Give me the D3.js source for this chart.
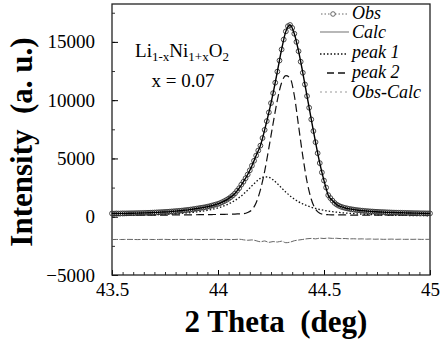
<!DOCTYPE html>
<html>
<head>
<meta charset="utf-8">
<script src="https://cdn.jsdelivr.net/npm/d3@7"></script>
<style>
  body { margin: 0; background: #fff; }
  svg text { font-family: "Liberation Serif", "Times New Roman", serif; }
</style>
</head>
<body>
<div id="chart"></div>
<script>
// observed points, 43.50 .. 45.00 every 0.01 deg
let obsStart = 43.5, obsStep = 0.01;
let obs = [
  280, 270, 285, 275, 280, 290, 285, 290, 295, 300,
  300, 305, 310, 315, 320, 325, 330, 340, 345, 350,
  360, 370, 380, 390, 400, 410, 420, 435, 450, 465,
  480, 495, 510, 530, 550, 570, 590, 615, 640, 670,
  700, 730, 760, 790, 820, 860, 900, 950, 1000, 1050,
  1100, 1170, 1250, 1340, 1440, 1550, 1680, 1830, 2000, 2230,
  2450, 2750, 3000, 3300, 3620, 3980, 4380, 4800, 5250, 5680,
  6100, 6750, 7450, 8200, 8950, 9750, 10600, 11500, 12450, 13400,
  14350, 15200, 15900, 16350, 16450, 16200, 15700, 15000, 14200, 13300,
  12350, 11350, 10350, 9350, 8350, 7350, 6400, 5450, 4600, 3800,
  3100, 2500, 1850, 1600, 1380, 1180, 1040, 940, 860, 800,
  750, 710, 670, 640, 610, 580, 560, 540, 520, 500,
  485, 470, 455, 445, 430, 420, 410, 400, 395, 385,
  375, 370, 360, 355, 350, 345, 340, 335, 330, 325,
  320, 315, 310, 305, 305, 300, 295, 295, 290, 290,
  285
];

// fitted curves, 43.50 .. 45.00 every 0.02 deg
let fitStart = 43.5, fitStep = 0.02;
let calc = [
  285, 285, 285, 288, 294, 300, 310, 320, 330, 345,
  360, 380, 400, 420, 450, 480, 510, 550, 590, 640,
  700, 760, 820, 900, 1000, 1100, 1250, 1440, 1680, 2000,
  2450, 3000, 3620, 4380, 5250, 6100, 7450, 8950, 10600, 12450,
  14350, 15900, 16450, 15700, 14200, 12350, 10350, 8350, 6400, 4600,
  3100, 1850, 1380, 1040, 860, 750, 670, 610, 560, 520,
  485, 455, 430, 410, 395, 375, 360, 350, 340, 330,
  320, 310, 305, 295, 290, 285
];
let peak1 = [
  90, 100, 100, 110, 115, 120, 130, 140, 150, 160,
  170, 185, 200, 215, 235, 255, 280, 305, 335, 370,
  410, 460, 520, 585, 665, 760, 875, 1015, 1190, 1395,
  1645, 1940, 2285, 2655, 3005, 3290, 3425, 3380, 3160, 2835,
  2465, 2110, 1790, 1515, 1285, 1095, 940, 815, 710, 620,
  550, 485, 435, 390, 350, 320, 290, 265, 245, 225,
  205, 190, 175, 165, 155, 145, 135, 125, 120, 110,
  105, 100, 95, 90, 85, 80
];
let peak2 = [
  120, 120, 125, 125, 125, 130, 130, 130, 135, 135,
  140, 140, 145, 145, 150, 150, 155, 160, 160, 165,
  170, 175, 180, 185, 190, 195, 200, 210, 220, 230,
  245, 260, 360, 600, 1200, 2300, 3900, 5900, 8000, 10000,
  11500, 12100, 11900, 10400, 7800, 5200, 3000, 1500, 650, 300,
  200, 170, 160, 155, 150, 150, 145, 145, 140, 140,
  140, 135, 135, 135, 130, 130, 130, 125, 125, 125,
  120, 120, 120, 115, 115, 115
];
let diff = [
  -1960, -1950, -1955, -1950, -1945, -1950, -1960, -1950, -1945, -1950,
  -1955, -1950, -1940, -1950, -1960, -1950, -1945, -1955, -1950, -1940,
  -1950, -1960, -1945, -1950, -1940, -1955, -1950, -1945, -1960, -1950,
  -1930, -1980, -2020, -1990, -2060, -2150, -2080, -2200, -2130, -2170,
  -2100, -2230, -2180, -2060, -2000, -1950, -1890, -1860, -1900, -1840,
  -1870, -1830, -1860, -1850, -1880, -1870, -1900, -1890, -1910, -1900,
  -1920, -1910, -1930, -1920, -1940, -1930, -1920, -1940, -1930, -1940,
  -1935, -1940, -1930, -1945, -1940, -1940
];

let xTicks = [43.5, 44, 44.5, 45];
let yTicks = [-5000, 0, 5000, 10000, 15000];
let legendNames = ["Obs", "Calc", "peak 1", "peak 2", "Obs-Calc"];

let width = 441, height = 345;
let plot = { left: 112, right: 430, top: 4, bottom: 275 };

let x = d3.scaleLinear().domain([43.5, 45]).range([plot.left, plot.right]);
let y = d3.scaleLinear().domain([-5000, 18250]).range([plot.bottom, plot.top]);

let svg = d3.select("#chart").append("svg")
  .attr("width", width)
  .attr("height", height);

let obsPts = obs.map((v, i) => ({ t: obsStart + i * obsStep, v: v }));
let fitPts = arr => arr.map((v, i) => ({ t: fitStart + i * fitStep, v: v }));

let line = d3.line()
  .x(d => x(d.t))
  .y(d => y(d.v))
  .curve(d3.curveMonotoneX);

// minor ticks
svg.append("g")
  .attr("transform", "translate(" + plot.left + ",0)")
  .call(d3.axisLeft(y).tickValues(d3.range(-5000, 18001, 2500)).tickSizeInner(-3).tickSizeOuter(0).tickFormat(""))
  .call(g => g.select(".domain").remove())
  .selectAll("line").attr("stroke", "#333");
svg.append("g")
  .attr("transform", "translate(0," + plot.bottom + ")")
  .call(d3.axisBottom(x).tickValues(d3.range(0, 31).map(i => 43.5 + i * 0.05)).tickSizeInner(-3).tickSizeOuter(0).tickFormat(""))
  .call(g => g.select(".domain").remove())
  .selectAll("line").attr("stroke", "#333");

// major ticks + labels
let yAxis = svg.append("g")
  .attr("transform", "translate(" + plot.left + ",0)")
  .call(d3.axisLeft(y).tickValues(yTicks).tickSizeInner(-6).tickSizeOuter(0).tickPadding(17).tickFormat(d3.format("d")))
  .attr("font-family", null)
  .attr("font-size", null);
yAxis.select(".domain").remove();
yAxis.selectAll("text").style("font-size", "19px").attr("fill", "#000");

let xAxis = svg.append("g")
  .attr("transform", "translate(0," + plot.bottom + ")")
  .call(d3.axisBottom(x).tickValues(xTicks).tickSizeInner(-5).tickSizeOuter(0).tickPadding(8).tickFormat(d => String(d)))
  .attr("font-family", null)
  .attr("font-size", null);
xAxis.select(".domain").remove();
xAxis.selectAll("text").style("font-size", "19px").attr("fill", "#000");

// frame
svg.append("rect")
  .attr("x", plot.left)
  .attr("y", plot.top)
  .attr("width", plot.right - plot.left)
  .attr("height", plot.bottom - plot.top)
  .attr("fill", "none")
  .attr("stroke", "#222")
  .attr("stroke-width", 1.3);

// difference curve
svg.append("path")
  .datum(fitPts(diff))
  .attr("fill", "none")
  .attr("stroke", "#666")
  .attr("stroke-width", 1)
  .attr("stroke-dasharray", "6,1.5")
  .attr("d", line);

// components
svg.append("path")
  .datum(fitPts(peak1))
  .attr("fill", "none")
  .attr("stroke", "#111")
  .attr("stroke-width", 1.3)
  .attr("stroke-dasharray", "1.5,2")
  .attr("d", line);

svg.append("path")
  .datum(fitPts(peak2))
  .attr("fill", "none")
  .attr("stroke", "#111")
  .attr("stroke-width", 1.2)
  .attr("stroke-dasharray", "8,4")
  .attr("d", line);

// observed
svg.selectAll(".obs")
  .data(obsPts)
  .enter()
  .append("circle")
  .attr("class", "obs")
  .attr("cx", d => x(d.t))
  .attr("cy", d => y(d.v))
  .attr("r", 2.4)
  .attr("fill", "none")
  .attr("stroke", "#333")
  .attr("stroke-width", 0.9);

svg.append("path")
  .datum(fitPts(calc))
  .attr("fill", "none")
  .attr("stroke", "#000")
  .attr("stroke-width", 1.4)
  .attr("d", line);

// legend
let legend = svg.append("g");
let rowY = [19, 38, 58, 78, 98];
legend.selectAll("text")
  .data(legendNames)
  .enter()
  .append("text")
  .attr("x", 352)
  .attr("y", (d, i) => rowY[i])
  .style("font-size", "18px")
  .style("font-style", "italic")
  .text(d => d);

legend.append("line")
  .attr("x1", 321).attr("x2", 347).attr("y1", rowY[0] - 5).attr("y2", rowY[0] - 5)
  .attr("stroke", "#666").attr("stroke-width", 1).attr("stroke-dasharray", "1.5,2");
legend.append("circle")
  .attr("cx", 333).attr("cy", rowY[0] - 5).attr("r", 2.3)
  .attr("fill", "#fff").attr("stroke", "#444").attr("stroke-width", 0.8);
legend.append("line")
  .attr("x1", 320).attr("x2", 349).attr("y1", rowY[1] - 6).attr("y2", rowY[1] - 6)
  .attr("stroke", "#888").attr("stroke-width", 1.2);
legend.append("line")
  .attr("x1", 320).attr("x2", 348).attr("y1", rowY[2] - 4).attr("y2", rowY[2] - 4)
  .attr("stroke", "#111").attr("stroke-width", 1.3).attr("stroke-dasharray", "1.5,2");
legend.append("line")
  .attr("x1", 327).attr("x2", 349).attr("y1", rowY[3] - 5).attr("y2", rowY[3] - 5)
  .attr("stroke", "#111").attr("stroke-width", 1.3).attr("stroke-dasharray", "7,4");
legend.append("line")
  .attr("x1", 320).attr("x2", 348).attr("y1", rowY[4] - 6).attr("y2", rowY[4] - 6)
  .attr("stroke", "#999").attr("stroke-width", 1).attr("stroke-dasharray", "2,3");

// sample label
let formula = svg.append("text")
  .attr("x", 182)
  .attr("y", 57)
  .attr("text-anchor", "middle")
  .style("font-size", "19px");
formula.append("tspan").text("Li");
formula.append("tspan").style("font-size", "13px").attr("dy", 4).text("1-x");
formula.append("tspan").attr("dy", -4).text("Ni");
formula.append("tspan").style("font-size", "13px").attr("dy", 4).text("1+x");
formula.append("tspan").attr("dy", -4).text("O");
formula.append("tspan").style("font-size", "13px").attr("dy", 4).text("2");

svg.append("text")
  .attr("x", 183)
  .attr("y", 87)
  .attr("text-anchor", "middle")
  .style("font-size", "19px")
  .text("x = 0.07");

// axis titles
svg.append("text")
  .attr("transform", "translate(32,142) rotate(-90)")
  .attr("text-anchor", "middle")
  .style("font-size", "31px")
  .style("font-weight", "bold")
  .style("white-space", "pre")
  .text("Intensity  (a. u.)");

svg.append("text")
  .attr("x", 276)
  .attr("y", 332)
  .attr("text-anchor", "middle")
  .style("font-size", "31px")
  .style("font-weight", "bold")
  .style("white-space", "pre")
  .text("2 Theta  (deg)");
</script>
</body>
</html>
